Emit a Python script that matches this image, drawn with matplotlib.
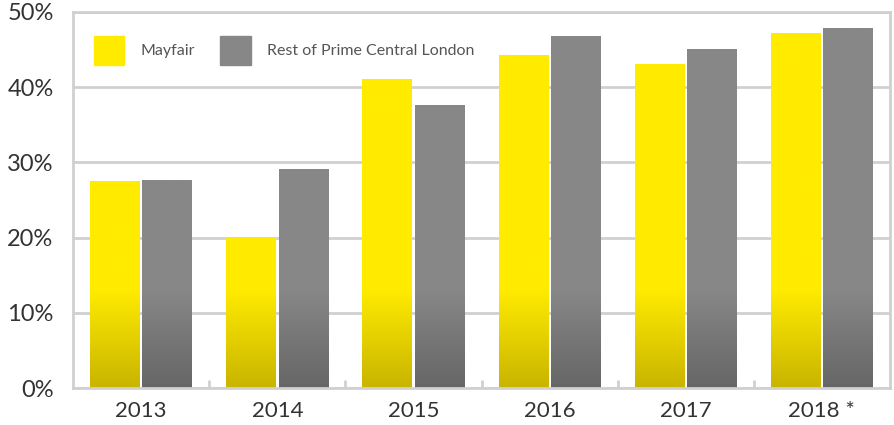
import numpy as np
import matplotlib.pyplot as plt
from matplotlib.patches import Patch
from matplotlib.colors import LinearSegmentedColormap

# -------- DATA --------
years = ["2013", "2014", "2015", "2016", "2017", "2018 *"]
mayfair = [27.5, 19.9, 41.1, 44.3, 43.1, 47.2]
rest_pcl = [27.6, 29.1, 37.6, 46.8, 45.1, 47.9]
series_names = ["Mayfair", "Rest of Prime Central London"]

# -------- STYLE --------
plt.rcParams['font.family'] = ['Lato', 'DejaVu Sans']
text_col = "#333333"
grid_col = "#d0d0d0"
yellow_top, yellow_bot = "#ffeb00", "#c9b400"
grey_top, grey_bot = "#878787", "#666666"
fade_to = 13  # gradient covers bottom part of bars (in % units)
ymax = 50

fig = plt.figure(figsize=(8.95, 4.25), dpi=100)
ax = fig.add_axes([0.0816, 0.087, 0.9128, 0.8848])

x = np.arange(len(years))
w = 0.365
gap = 0.02


def gradient_bars(xpos, vals, top, bot):
    # bars only act as clip shapes, the colour comes from the image
    bars = ax.bar(xpos, vals, width=w, facecolor="none", linewidth=0, zorder=3)
    cmap = LinearSegmentedColormap.from_list("g", [bot, top])
    yy = np.linspace(0, ymax, 500)
    grad = np.clip(yy / fade_to, 0, 1).reshape(-1, 1)
    for b in bars:
        x0 = b.get_x()
        im = ax.imshow(grad, cmap=cmap, origin="lower", aspect="auto",
                       extent=(x0 - 0.01, x0 + w + 0.01, 0, ymax), zorder=4,
                       interpolation="bilinear", vmin=0, vmax=1)
        im.set_clip_path(b)
    return bars


gradient_bars(x - w / 2 - gap / 2, mayfair, yellow_top, yellow_bot)
gradient_bars(x + w / 2 + gap / 2, rest_pcl, grey_top, grey_bot)

ax.set_xlim(-0.5, len(years) - 0.5)
ax.set_ylim(0, ymax)
ax.set_yticks(np.arange(0, 51, 10))
ax.set_yticklabels([f"{v}%" for v in range(0, 51, 10)])
ax.set_xticks(x)
ax.set_xticklabels(years)
ax.set_xticks(np.arange(0.5, len(years) - 0.5, 1), minor=True)

ax.tick_params(axis="y", length=0, pad=14, labelsize=17, labelcolor=text_col)
ax.tick_params(axis="x", which="major", length=0, pad=9, labelsize=16, labelcolor=text_col)
ax.tick_params(axis="x", which="minor", direction="in", length=6, width=2, color=grid_col)

ax.grid(axis="y", color=grid_col, linewidth=2, zorder=0)
ax.set_axisbelow(True)
for side in ["left", "top", "right", "bottom"]:
    ax.spines[side].set_color(grid_col)
    ax.spines[side].set_linewidth(2)
ax.spines["bottom"].set_zorder(5)

handles = [Patch(color=yellow_top), Patch(color=grey_top)]
ax.legend(handles, series_names, loc="upper left", bbox_to_anchor=(0.008, 0.975),
          ncol=2, frameon=False, fontsize=11.5, labelcolor="#555555",
          handlelength=1.9, handleheight=2.4, handletextpad=1.0, columnspacing=1.6)

plt.savefig("out.png", dpi=100)
